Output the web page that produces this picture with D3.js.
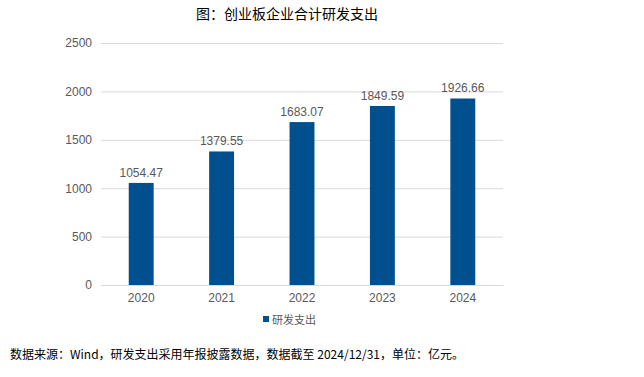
<!DOCTYPE html>
<html>
<head>
<meta charset="utf-8">
<script src="https://cdn.jsdelivr.net/npm/d3@7"></script>
<style>
  body { margin: 0; background: #fff; }
  svg text { font-family: Arial, "Liberation Sans", "Noto Sans CJK SC", sans-serif; }
</style>
</head>
<body>
<div id="chart"></div>
<script>
// 创业板企业合计研发支出（亿元）
const years  = ["2020", "2021", "2022", "2023", "2024"];
const spend  = [1054.47, 1379.55, 1683.07, 1849.59, 1926.66];
const yTicks = [0, 500, 1000, 1500, 2000, 2500];

const W = 644, H = 377;
const plot = { left: 101, right: 503, top: 43, bottom: 285 };
const BAR = "#00508f";

const svg = d3.select("#chart").append("svg")
  .attr("width", W).attr("height", H);

const x = d3.scaleBand()
  .domain(years)
  .range([plot.left, plot.right])
  .paddingInner(0.69).paddingOuter(0.345);

const y = d3.scaleLinear()
  .domain([0, 2500])
  .range([plot.bottom, plot.top]);

// 标题
svg.append("text")
  .attr("x", 287).attr("y", 19)
  .attr("text-anchor", "middle")
  .attr("font-size", 14)
  .attr("fill", "#000")
  .style("font-family", "'Noto Sans CJK SC', sans-serif")
  .text("图：创业板企业合计研发支出");

// 网格线 + y轴
svg.append("g")
  .attr("transform", `translate(${plot.left},0)`)
  .call(d3.axisLeft(y).tickValues(yTicks).tickFormat(d3.format("d"))
    .tickSize(-(plot.right - plot.left)).tickPadding(9))
  .call(g => g.select(".domain").remove())
  .call(g => g.selectAll(".tick line").attr("stroke", "#d9d9d9").attr("stroke-width", 1))
  .call(g => g.selectAll(".tick text").attr("fill", "#595959").attr("font-size", 12));

// x轴
svg.append("g")
  .attr("transform", `translate(0,${plot.bottom})`)
  .call(d3.axisBottom(x).tickSize(0).tickPadding(8))
  .call(g => g.select(".domain").attr("stroke", "#d9d9d9"))
  .call(g => g.selectAll(".tick text").attr("fill", "#595959").attr("font-size", 12));

// 柱子
svg.append("g").selectAll("rect")
  .data(years).join("rect")
  .attr("x", (d, i) => x(d))
  .attr("y", (d, i) => y(spend[i]))
  .attr("width", x.bandwidth())
  .attr("height", (d, i) => y(0) - y(spend[i]))
  .attr("fill", BAR);

// 数值标签
svg.append("g").selectAll("text")
  .data(years).join("text")
  .attr("x", d => x(d) + x.bandwidth() / 2)
  .attr("y", (d, i) => y(spend[i]) - 6)
  .attr("text-anchor", "middle")
  .attr("font-size", 12)
  .attr("fill", "#595959")
  .text((d, i) => spend[i].toFixed(2));

// 图例
const lg = svg.append("g").attr("transform", "translate(263,320)");
lg.append("rect").attr("x", 0).attr("y", -4).attr("width", 6).attr("height", 6).attr("fill", BAR);
lg.append("text").attr("x", 9).attr("y", 4)
  .attr("font-size", 11).attr("fill", "#595959")
  .style("font-family", "'Noto Sans CJK SC', sans-serif")
  .text("研发支出");

// 数据来源
svg.append("text")
  .attr("x", 10).attr("y", 359)
  .attr("font-size", 12).attr("fill", "#000")
  .style("font-family", "'Noto Sans CJK SC', sans-serif")
  .text("数据来源：Wind，研发支出采用年报披露数据，数据截至 2024/12/31，单位：亿元。");
</script>
</body>
</html>
